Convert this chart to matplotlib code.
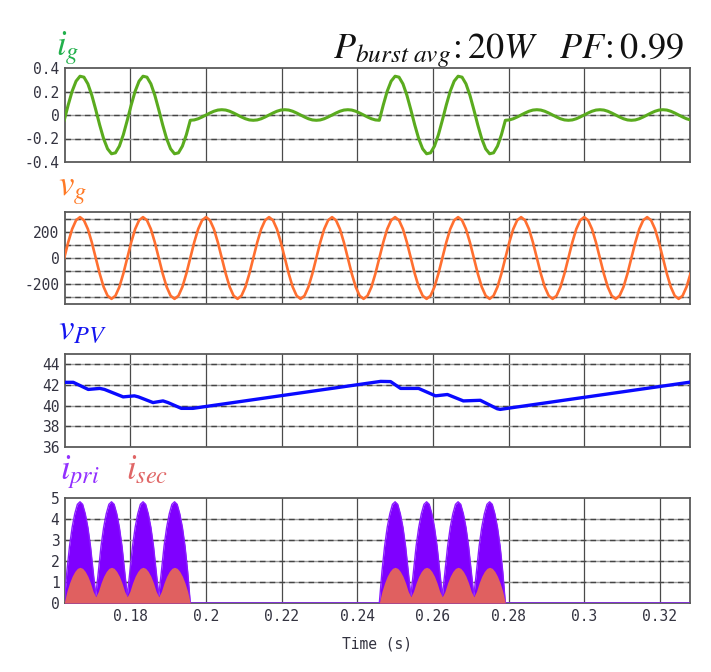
import numpy as np
import matplotlib
matplotlib.use("Agg")
import matplotlib.pyplot as plt

# ---------------- data ----------------
# sample grid of the grid-side waveforms (16 samples per 60 Hz cycle)
t0 = 0.1625
n_wave = 160
wave_step = 1 / 960
# grid voltage, one cycle of samples (V)
vg_cycle = [0, 119, 220, 287, 311, 287, 220, 119, 0, -119, -220, -287, -311, -287, -220, -119]
# grid current during a burst cycle and during an idle cycle (A)
ig_burst_cycle = [-0.045, 0.085, 0.202, 0.288, 0.330, 0.322, 0.265, 0.168,
                  0.045, -0.085, -0.202, -0.288, -0.330, -0.322, -0.265, -0.168]
ig_idle_cycle = [-0.045, -0.042, -0.032, -0.017, 0.0, 0.017, 0.032, 0.042,
                 0.045, 0.042, 0.032, 0.017, 0.0, -0.017, -0.032, -0.042]
# which of the 10 grid cycles are burst cycles
burst_on = [1, 1, 0, 0, 0, 1, 1, 0, 0, 0]

# PV voltage (V) at read-off times (s)
vpv_t = [0.1625, 0.16489, 0.16885, 0.17191, 0.17315, 0.17808, 0.18105, 0.18211,
         0.18598, 0.18862, 0.18994, 0.19345, 0.19653, 0.24618, 0.24881, 0.25145,
         0.25620, 0.26068, 0.26384, 0.26806, 0.27254, 0.27702, 0.27781, 0.3281]
vpv_v = [42.26, 42.26, 41.57, 41.67, 41.57, 40.85, 40.95, 40.85,
         40.30, 40.46, 40.30, 39.74, 39.74, 42.35, 42.33, 41.67,
         41.67, 40.95, 41.08, 40.46, 40.52, 39.70, 39.64, 42.28]

# primary / secondary current envelopes (A), 12 samples per half cycle
env_step = 1 / 1440
ipri_hump = [1.5, 2.7, 3.6, 4.25, 4.7, 4.82, 4.7, 4.25, 3.6, 2.7, 1.5]
isec_hump = [0.55, 0.95, 1.27, 1.5, 1.65, 1.7, 1.65, 1.5, 1.27, 0.95, 0.55]
ipri_valley = 0.35
isec_valley = 0.3
humps_per_burst = 4
burst_starts = [0.1625, 0.24583]
n_env = 239

xlim = (0.1627, 0.3280)
xticks = [0.18, 0.2, 0.22, 0.24, 0.26, 0.28, 0.3, 0.32]
xticklabels = ["0.18", "0.2", "0.22", "0.24", "0.26", "0.28", "0.3", "0.32"]
ig_ticks = [0.4, 0.2, 0, -0.2, -0.4]
ig_ticklabels = ["0.4", "0.2", "0", "-0.2", "-0.4"]
vg_ticks = [200, 0, -200]
vg_ticklabels = ["200", "0", "-200"]
vg_grid = [-300, -200, -100, 0, 100, 200, 300]
vpv_ticks = [44, 42, 40, 38, 36]
vpv_ticklabels = ["44", "42", "40", "38", "36"]
ipri_ticks = [5, 4, 3, 2, 1, 0]
ipri_ticklabels = ["5", "4", "3", "2", "1", "0"]

# ---------------- assemble series ----------------
t_wave = t0 + np.arange(n_wave) * wave_step
vg = np.array(vg_cycle * len(burst_on), dtype=float)
ig = np.concatenate([ig_burst_cycle if on else ig_idle_cycle for on in burst_on])

def burst_env(hump, valley):
    seq = [0.0]
    for h in range(humps_per_burst):
        seq += hump
        seq.append(valley if h < humps_per_burst - 1 else 0.0)
    return seq

t_env = t0 + np.arange(n_env) * env_step
ipri = np.zeros(n_env)
isec = np.zeros(n_env)
for bs in burst_starts:
    k0 = int(round((bs - t0) / env_step))
    p = burst_env(ipri_hump, ipri_valley)
    s = burst_env(isec_hump, isec_valley)
    ipri[k0:k0 + len(p)] = p
    isec[k0:k0 + len(s)] = s

# ---------------- figure ----------------
plt.rcParams["mathtext.fontset"] = "stix"
W, H = 711, 672
fig = plt.figure(figsize=(W / 100, H / 100), dpi=100)

def ax_rect(top, bottom, left=65, right=690):
    return [left / W, 1 - bottom / H, (right - left) / W, (bottom - top) / H]

tick_font = dict(family="DejaVu Sans Mono", size=10.5, color="#333340")

def style(ax, yt, ytl, ylim, ygrid=None, bottom_labels=False):
    ax.set_xlim(*xlim)
    ax.set_ylim(*ylim)
    ax.set_yticks(yt)
    ax.set_yticklabels(ytl, **tick_font)
    ax.set_xticks(xticks)
    if bottom_labels:
        ax.set_xticklabels(xticklabels, **tick_font)
    else:
        ax.set_xticklabels([])
    ax.tick_params(length=0, pad=4)
    for g in xticks:
        ax.axvline(g, color="#4a4a4a", lw=0.9, zorder=1)
    for g in (ygrid if ygrid is not None else yt):
        if ylim[0] < g < ylim[1]:
            ax.axhline(g, color="#9a9a9a", lw=1.0, zorder=1)
            ax.axhline(g, color="#444444", lw=1.0, dashes=(4, 3), zorder=1)
    for sp in ax.spines.values():
        sp.set_color("#5a5a5a")
        sp.set_linewidth(1.3)

ax1 = fig.add_axes(ax_rect(68, 162))
ax1.plot(t_wave, ig, color="#5aab1e", lw=2.2, zorder=3)
style(ax1, ig_ticks, ig_ticklabels, (-0.4, 0.4))

ax2 = fig.add_axes(ax_rect(212, 304))
ax2.plot(t_wave, vg, color="#ff6f30", lw=1.9, zorder=3)
style(ax2, vg_ticks, vg_ticklabels, (-350, 350), ygrid=vg_grid)

ax3 = fig.add_axes(ax_rect(354, 447))
ax3.plot(vpv_t, vpv_v, color="#0a0aff", lw=2.4, zorder=3)
style(ax3, vpv_ticks, vpv_ticklabels, (36, 45))

ax4 = fig.add_axes(ax_rect(498, 603))
ax4.fill_between(t_env, 0, ipri, color="#7f00ff", lw=0, zorder=3)
ax4.plot(t_env, ipri, color="#8a1cff", lw=1.0, zorder=3)
ax4.fill_between(t_env, 0, isec, color="#e06060", lw=0, zorder=4)
style(ax4, ipri_ticks, ipri_ticklabels, (0, 5), bottom_labels=True)
ax4.set_xlabel("Time (s)", family="DejaVu Sans Mono", size=10.5, color="#333340", labelpad=9)

# panel labels
def ftxt(x, y, s, color, size):
    fig.text(x / W, 1 - y / H, s, color=color, size=size, ha="left", va="baseline")

ftxt(56, 55, r"$i_g$", "#22b04c", 25)
ftxt(58, 195, r"$v_g$", "#ff7a26", 25)
ftxt(58, 339, r"$v_{PV}$", "#1515f0", 25)
ftxt(60, 479, r"$i_{pri}$", "#9330ff", 25)
ftxt(126, 479, r"$i_{sec}$", "#e06666", 25)
ftxt(333, 58, r"$P_{burst\ avg}\!:20W\ \ \ PF\!:0.99$", "#111111", 26)

fig.savefig("out.png", dpi=100)
